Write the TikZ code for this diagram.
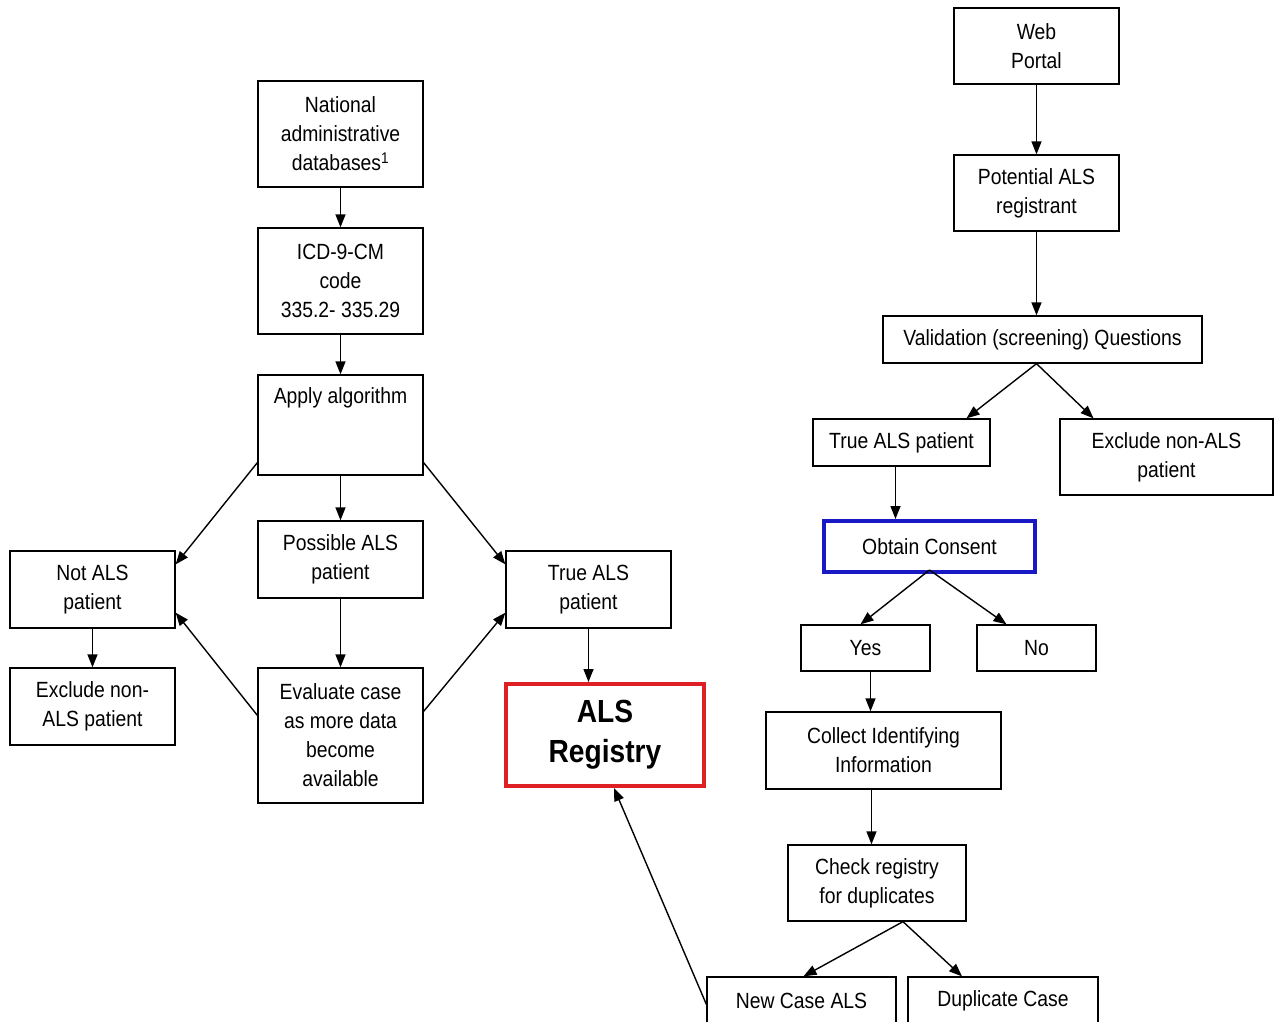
\documentclass[tikz,border=0pt]{standalone}
\usepackage{fontspec}
\setmainfont{Liberation Sans}[FakeStretch=0.88]
\usetikzlibrary{arrows.meta}
\definecolor{regred}{RGB}{222,32,36}
\definecolor{conblue}{RGB}{24,24,196}
\begin{document}
\begin{tikzpicture}[x=1pt,y=-1pt,
  box/.style={draw=black, line width=1.3pt, align=center, inner sep=0pt,
    font=\fontsize{22}{29}\selectfont},
  arr/.style={line width=1.4pt, -{Triangle[length=13pt,width=10pt]}}]
\useasboundingbox (0,0) rectangle (1275,1022);
\clip (0,0) rectangle (1275,1022);
\fill[white] (0,0) rectangle (1275,1022);
% left column
\node[box, minimum width=165pt, minimum height=106pt] (nat) at (340.5,134) {National\\administrative\\databases\textsuperscript{1}};
\node[box, minimum width=165pt, minimum height=106pt] (icd) at (340.5,281) {ICD-9-CM\\code\\335.2- 335.29};
\node[box, minimum width=165pt, minimum height=100pt] (apply) at (340.5,425) {Apply algorithm\\ \\ };
\node[box, minimum width=165pt, minimum height=77pt] (poss) at (340.5,559.5) {Possible ALS\\patient};
\node[box, minimum width=165pt, minimum height=135pt] (eval) at (340.5,735.5) {Evaluate case\\as more data\\become\\available};
\node[box, minimum width=165pt, minimum height=77pt] (notals) at (92.5,589.5) {Not ALS\\patient};
\node[box, minimum width=165pt, minimum height=77pt] (exclL) at (92.5,706.5) {Exclude non-\\ALS patient};
\node[box, minimum width=165pt, minimum height=77pt] (trueA) at (588.5,589.5) {True ALS\\patient};
\node[draw=regred, line width=4pt, align=center, inner sep=0pt, minimum width=198pt, minimum height=102pt,
  font=\fontsize{32}{40}\selectfont\bfseries] (reg) at (605,735) {ALS\\Registry};
% right column
\node[box, minimum width=165pt, minimum height=76pt] (web) at (1036.5,46) {Web\\Portal};
\node[box, minimum width=165pt, minimum height=76pt] (pot) at (1036.5,193) {Potential ALS\\registrant};
\node[box, minimum width=319pt, minimum height=47pt] (valid) at (1042.5,339.5) {Validation (screening) Questions};
\node[box, minimum width=177pt, minimum height=47pt] (trueR) at (901.5,442.5) {True ALS patient};
\node[box, minimum width=213pt, minimum height=76pt] (exclR) at (1166.5,457) {Exclude non-ALS\\patient};
\node[draw=conblue, line width=4pt, align=center, inner sep=0pt, minimum width=211pt, minimum height=51pt,
  font=\fontsize{22}{29}\selectfont] (cons) at (929.5,546.5) {Obtain Consent};
\node[box, minimum width=129pt, minimum height=46pt] (yes) at (865.5,648) {Yes};
\node[box, minimum width=119pt, minimum height=46pt] (no) at (1036.5,648) {No};
\node[box, minimum width=235pt, minimum height=77pt] (coll) at (883.5,750.5) {Collect Identifying\\Information};
\node[box, minimum width=178pt, minimum height=76pt] (check) at (877,883) {Check registry\\for duplicates};
\node[box, minimum width=189pt, minimum height=48pt] (newc) at (801.5,1001) {New Case ALS};
\node[box, minimum width=190pt, minimum height=48pt] (dup) at (1003,1001) {Duplicate Case};
% left connectors
\draw[arr] (nat.south) -- (icd.north);
\draw[arr] (icd.south) -- (apply.north);
\draw[arr] (apply.south) -- (poss.north);
\draw[arr] (poss.south) -- (eval.north);
\draw[arr] ([yshift=13pt]apply.south west) -- ([yshift=-14pt]notals.north east);
\draw[arr] ([yshift=13pt]apply.south east) -- ([yshift=-14pt]trueA.north west);
\draw[arr] ([yshift=-48pt]eval.north west) -- ([yshift=16pt]notals.south east);
\draw[arr] ([yshift=-44pt]eval.north east) -- ([yshift=16pt]trueA.south west);
\draw[arr] (notals.south) -- (exclL.north);
\draw[arr] (trueA.south) -- (trueA.south |- reg.north);
\draw[arr] ([yshift=-28pt]newc.north west) -- ([xshift=9pt]reg.south);
% right connectors
\draw[arr] (web.south) -- (pot.north);
\draw[arr] (pot.south) -- (pot.south |- valid.north);
\draw[arr] ([xshift=-6pt]valid.south) -- ([xshift=65pt]trueR.north);
\draw[arr] ([xshift=-6pt]valid.south) -- ([xshift=-73pt]exclR.north);
\draw[arr] ([xshift=-6pt]trueR.south) -- ([xshift=-6pt]trueR.south |- cons.north);
\draw[arr] ([yshift=4pt]cons.south) -- ([xshift=-5pt]yes.north);
\draw[arr] ([yshift=4pt]cons.south) -- ([xshift=-30pt]no.north);
\draw[arr] ([xshift=5pt]yes.south) -- ([xshift=5pt]yes.south |- coll.north);
\draw[arr] ([xshift=-12pt]coll.south) -- ([xshift=-12pt]coll.south |- check.north);
\draw[arr] ([xshift=26pt]check.south) -- ([xshift=2pt]newc.north);
\draw[arr] ([xshift=26pt]check.south) -- ([xshift=-41pt]dup.north);
\end{tikzpicture}
\end{document}
